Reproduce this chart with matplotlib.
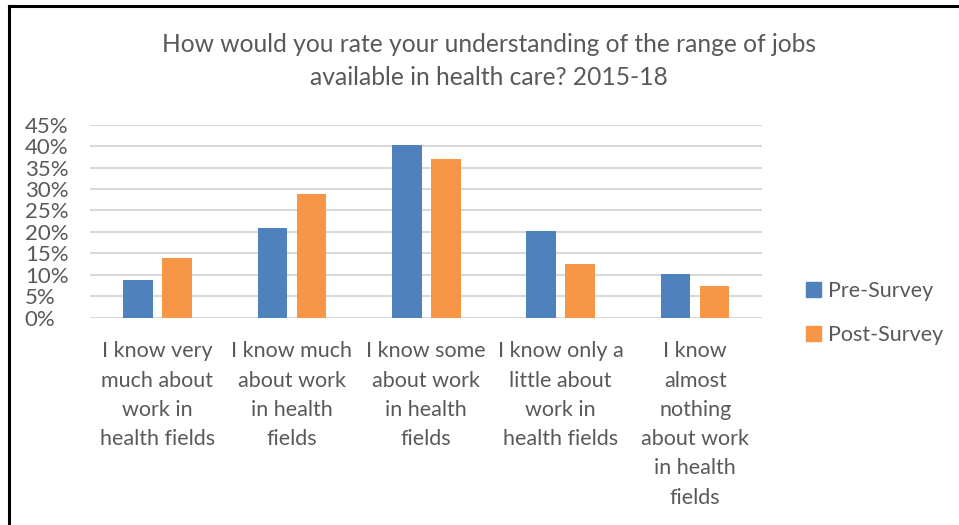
import numpy as np
import matplotlib.pyplot as plt
from matplotlib.lines import Line2D
from matplotlib.patches import Patch
from matplotlib.ticker import MultipleLocator, FuncFormatter

# survey answers, share of students per answer
categories = [
    "I know very\nmuch about\nwork in\nhealth fields",
    "I know much\nabout work\nin health\nfields",
    "I know some\nabout work\nin health\nfields",
    "I know only a\nlittle about\nwork in\nhealth fields",
    "I know\nalmost\nnothing\nabout work\nin health\nfields",
]
pre_survey = [8.8, 20.9, 40.2, 20.1, 10.1]
post_survey = [13.8, 28.9, 37.1, 12.4, 7.3]

blue = "#4f81bd"
orange = "#f79646"
grey = "#595959"

plt.rcParams['font.family'] = ['Lato', 'DejaVu Sans']

fig = plt.figure(figsize=(9.59, 5.25), dpi=100)
ax = fig.add_axes([0.094, 0.395, 0.701, 0.3675])

x = np.arange(len(categories))
w = 0.22
ax.bar(x - 0.145, pre_survey, w, color=blue, label="Pre-Survey", zorder=3)
ax.bar(x + 0.145, post_survey, w, color=orange, label="Post-Survey", zorder=3)

ax.set_xlim(-0.5, len(categories) - 0.5)
ax.set_ylim(0, 45)
ax.yaxis.set_major_locator(MultipleLocator(5))
ax.yaxis.set_major_formatter(FuncFormatter(lambda v, p: f"{v:.0f}%"))
ax.grid(axis='y', color='#d9d9d9', linewidth=1.5, zorder=0)
for s in ax.spines.values():
    s.set_visible(False)
ax.tick_params(axis='y', length=0, labelsize=16, colors=grey, pad=47)
ax.tick_params(axis='x', length=0, labelsize=15.5, colors=grey, pad=17)
ax.set_xticks(x)
ax.set_xticklabels(categories, linespacing=1.58, va='top')
for lbl in ax.get_yticklabels():
    lbl.set_horizontalalignment('left')

fig.text(0.51, 0.884, "How would you rate your understanding of the range of jobs\navailable in health care? 2015-18",
         ha='center', va='center', fontsize=17.7, color=grey, linespacing=1.5)

handles = [Patch(color=blue, label="Pre-Survey"), Patch(color=orange, label="Post-Survey")]
fig.legend(handles=handles, loc='center left', bbox_to_anchor=(0.82, 0.404), frameon=False,
           fontsize=15.5, labelcolor=grey, handlelength=0.7, handleheight=0.7,
           handletextpad=0.35, labelspacing=1.1)

# frame lines along the top and left edge
fig.add_artist(Line2D([0.009, 1.0], [0.988, 0.988], color='black', linewidth=2.2))
fig.add_artist(Line2D([0.0095, 0.0095], [0.0, 0.988], color='black', linewidth=2.2))

fig.savefig("out.png", dpi=100, facecolor='white')
